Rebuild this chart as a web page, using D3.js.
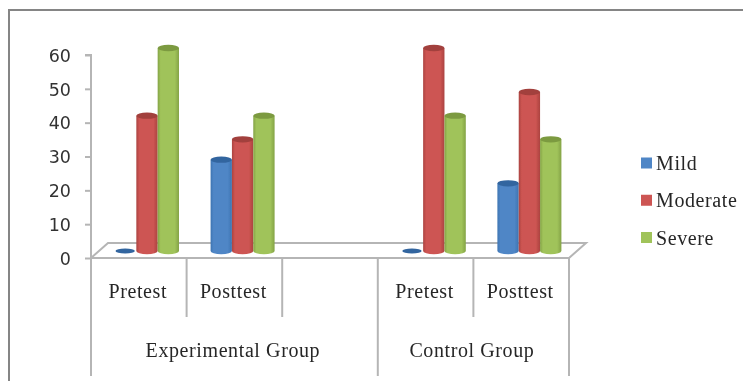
<!DOCTYPE html>
<html><head><meta charset="utf-8">
<script src="https://cdn.jsdelivr.net/npm/d3@7"></script>
<style>
html,body{margin:0;padding:0;background:#fff}
svg{display:block}
text{font-family:"Liberation Serif",serif;fill:#262626;letter-spacing:0.6px}
text.tick-num{font-family:"DejaVu Sans",sans-serif;fill:#333;letter-spacing:0}
</style></head><body><div id="c"></div>
<script>
const categories=["Pretest","Posttest","","Pretest ","Posttest "];
const seriesNames=["Mild","Moderate","Severe"];
const mild=[0,27,null,0,20];
const moderate=[40,33,null,60,47];
const severe=[60,40,null,40,33];
const groups=[{name:"Experimental Group",from:0,to:3},{name:"Control Group",from:3,to:5}];
const yTicks=[0,10,20,30,40,50,60];
const values=[mild,moderate,severe];
const colors={Mild:["#3d74b2","#4f86c6","#33659f"],Moderate:["#ab4340","#cd5552","#a23f3c"],Severe:["#84a346","#a0c35a","#7c9a40"]};

const W=743,H=381;
const svg=d3.select("#c").append("svg").attr("width",W).attr("height",H);
const defs=svg.append("defs");
defs.append("filter").attr("id","soft").append("feGaussianBlur").attr("stdDeviation",0.5);
seriesNames.forEach((s,i)=>{
  const g=defs.append("linearGradient").attr("id","cyl"+i);
  [[0,colors[s][0]],[0.14,colors[s][1]],[0.8,colors[s][1]],[1,colors[s][0]]].forEach(([o,c])=>g.append("stop").attr("offset",o).attr("stop-color",c));
});
const root=svg.append("g").attr("filter","url(#soft)");
root.append("path").attr("d",`M9,${H+10}V10H${W+10}`).attr("fill","none").attr("stroke","#858585").attr("stroke-width",2);

const axisColor="#b5b5b5";
const y=d3.scaleLinear().domain([0,60]).range([258,55]);
const x0=d3.scaleBand().domain(categories).range([91,569]);
const x1=d3.scaleBand().domain(seriesNames).range([24,24+64]);
const depthX=17,depthY=15,baseLift=7;

// floor
const floor=d3.line();
root.append("path").attr("d",floor([[x0.range()[0],y(0)],[x0.range()[0]+depthX,y(0)-depthY],[x0.range()[1]+depthX,y(0)-depthY],[x0.range()[1],y(0)],[x0.range()[0],y(0)]]))
  .attr("fill","#fff").attr("stroke",axisColor).attr("stroke-width",2);

// value axis
const ay=root.append("g").attr("transform","translate(91,0)").call(d3.axisLeft(y).tickValues(yTicks).tickSize(6).tickPadding(14));
ay.selectAll("path,line").attr("stroke",axisColor).attr("stroke-width",2);
ay.select(".domain").attr("d",`M-6,${y(60)}H0V${y(0)}`);
ay.selectAll("text").attr("class","tick-num").attr("font-size",17.5).attr("dy","0.36em");

// category separators: long at group boundaries, short between categories
const sepTop=y(0);
const seps=root.append("g").attr("stroke",axisColor).attr("stroke-width",2);
const edges=[...categories.map(c=>x0(c)),x0.range()[1]];
const longEdges=[0,3,5];
edges.forEach((ex,i)=>{
  seps.append("line").attr("x1",ex).attr("x2",ex).attr("y1",sepTop).attr("y2",longEdges.includes(i)?376:317);
});

// cylinders
const rx=x1.bandwidth()/2, ry=3.2;
seriesNames.forEach((s,si)=>{
  categories.forEach((c,ci)=>{
    const v=values[si][ci];
    if(v===null) return;
    const cx=x0(c)+x1(s)+rx;
    const by=y(0)-baseLift, top=y(v)-baseLift;
    const g=root.append("g");
    if(v===0){
      g.append("ellipse").attr("cx",cx-0.5).attr("cy",by).attr("rx",rx-1).attr("ry",2.4).attr("fill",colors[s][2]);
      return;
    }
    g.append("path").attr("d",`M${cx-rx},${top}V${by}A${rx},${ry} 0 0 0 ${cx+rx},${by}V${top}Z`).attr("fill",`url(#cyl${si})`);
    g.append("ellipse").attr("cx",cx).attr("cy",top).attr("rx",rx).attr("ry",ry).attr("fill",colors[s][2]);
  });
});

// category labels
root.append("g").selectAll("text").data(categories.filter(c=>c.trim())).join("text")
  .attr("x",c=>x0(c)+x0.bandwidth()/2-1).attr("y",298).attr("text-anchor","middle").attr("font-size",20).text(c=>c.trim());
// group labels
root.append("g").selectAll("text").data(groups).join("text")
  .attr("x",g=>(edges[g.from]+edges[g.to])/2-1.5).attr("y",357).attr("text-anchor","middle").attr("font-size",20).text(g=>g.name);

// legend
const ly=d3.scalePoint().domain(seriesNames).range([163,237.5]);
const leg=root.append("g").selectAll("g").data(seriesNames).join("g").attr("transform",s=>`translate(641,${ly(s)})`);
leg.append("rect").attr("x",0).attr("y",-5.5).attr("width",11).attr("height",11).attr("fill",s=>colors[s][1]);
leg.append("text").attr("x",15).attr("y",0.5).attr("dy","0.33em").attr("font-size",20).text(s=>s);
</script></body></html>
